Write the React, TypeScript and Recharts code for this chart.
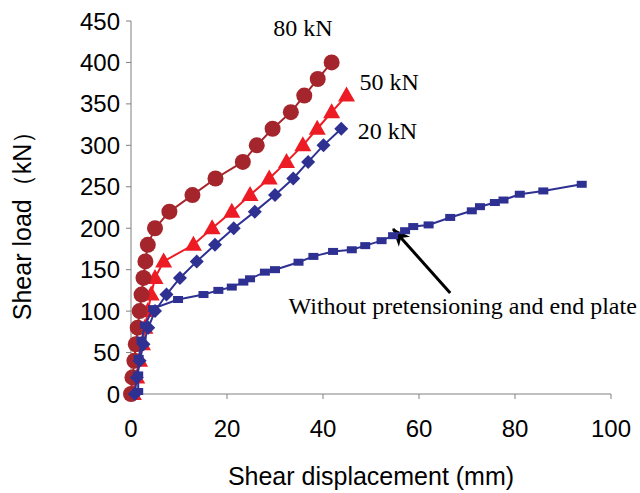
import React from 'react';
import {
  ScatterChart,
  Scatter,
  XAxis,
  YAxis,
  ReferenceDot,
  ReferenceLine,
} from 'recharts';

// shear load steps (kN) and measured displacement (mm) per pretension level
const load80 = [0, 20, 40, 60, 80, 100, 120, 140, 160, 180, 200, 220, 240, 260, 280, 300, 320, 340, 360, 380, 400];
const disp80 = [0, 0.3, 0.7, 1.0, 1.4, 1.8, 2.2, 2.6, 3.0, 3.5, 5.0, 8.0, 12.8, 17.6, 23.3, 26.2, 29.5, 33.3, 36.1, 38.9, 41.8];

const load50 = [0, 20, 40, 60, 80, 100, 120, 140, 160, 180, 200, 220, 240, 260, 280, 300, 320, 340, 360];
const disp50 = [0.5, 1.2, 1.8, 2.4, 2.9, 3.5, 4.2, 5.0, 6.8, 13.0, 16.9, 21.0, 24.8, 28.8, 32.4, 35.8, 38.8, 41.8, 44.9];

const load20 = [0, 20, 40, 60, 80, 100, 120, 140, 160, 180, 200, 220, 240, 260, 280, 300, 320];
const disp20 = [0.8, 1.2, 1.8, 2.6, 3.6, 5.0, 7.4, 10.2, 13.7, 17.5, 21.4, 25.8, 30.0, 33.8, 36.9, 40.1, 43.8];

const loadPlain = [3, 23, 43, 65, 83, 103, 114, 120, 125, 129, 135, 139, 147, 150, 159, 166, 172, 174, 179, 185, 191, 197, 202, 204, 213, 221, 226, 231, 234, 241, 245, 253];
const dispPlain = [1.5, 1.5, 1.6, 2.2, 2.9, 4.6, 9.8, 15.1, 18.2, 21.0, 23.4, 24.8, 27.9, 30.0, 34.9, 38.0, 42.1, 46.0, 48.8, 52.2, 54.6, 57.1, 58.8, 62.0, 66.5, 71.0, 72.7, 75.8, 77.6, 81.0, 85.9, 93.9];

const xTicks = [0, 20, 40, 60, 80, 100];
const yTicks = [0, 50, 100, 150, 200, 250, 300, 350, 400, 450];

const toPoints = (xs: number[], ys: number[]) => xs.map((x, i) => ({ x, y: ys[i] }));

const series80 = toPoints(disp80, load80);
const series50 = toPoints(disp50, load50);
const series20 = toPoints(disp20, load20);
const seriesPlain = toPoints(dispPlain, loadPlain);

const DARK_RED = '#A4262C';
const RED = '#ED1C24';
const BLUE = '#2E3192';
const AXIS = '#808080';
const SANS = '"Liberation Sans", Arial, sans-serif';
const SERIF = '"Liberation Serif", "Times New Roman", serif';

const CircleDot = ({ cx, cy }: any) => <circle cx={cx} cy={cy} r={8} fill={DARK_RED} />;
const TriangleDot = ({ cx, cy }: any) => (
  <polygon points={`${cx},${cy - 9} ${cx + 8.5},${cy + 6} ${cx - 8.5},${cy + 6}`} fill={RED} />
);
const DiamondDot = ({ cx, cy }: any) => (
  <polygon points={`${cx},${cy - 7} ${cx + 7},${cy} ${cx},${cy + 7} ${cx - 7},${cy}`} fill={BLUE} />
);
const SquareDot = ({ cx, cy }: any) => <rect x={cx - 5} y={cy - 3.5} width={10} height={7} fill={BLUE} />;

const YTitle = ({ viewBox }: any) => {
  const x = viewBox.x + 22;
  const y = viewBox.y + viewBox.height / 2 + 12;
  return (
    <text
      x={x}
      y={y}
      transform={`rotate(-90 ${x} ${y})`}
      textAnchor="middle"
      dominantBaseline="central"
      fontFamily={SANS}
      fontSize={25}
      fill="#000"
    >
      Shear load（kN）
    </text>
  );
};

const noteStyle = { fontFamily: SERIF, fontSize: 24, fill: '#000' };

export default function App() {
  return (
    <div style={{ position: 'absolute', left: 0, top: 0, background: '#fff' }}>
      <ScatterChart width={640} height={493} margin={{ top: 21, right: 29, bottom: 0, left: 0 }}>
        <defs>
          <marker
            id="arrowHead"
            viewBox="-18 -8 20 16"
            markerWidth={20}
            markerHeight={16}
            refX={0}
            refY={0}
            orient="auto"
            markerUnits="userSpaceOnUse"
          >
            <path d="M1,0 L-17,-7.5 L-12,0 L-17,7.5 Z" fill="#000" />
          </marker>
        </defs>
        <XAxis
          type="number"
          dataKey="x"
          domain={[0, 100]}
          ticks={xTicks}
          height={99}
          stroke={AXIS}
          tickSize={5}
          tickMargin={21}
          tick={{ fill: '#000', fontSize: 24, fontFamily: SANS }}
          label={{
            value: 'Shear displacement (mm)',
            position: 'insideBottom',
            offset: 8,
            fill: '#000',
            fontSize: 25,
            fontFamily: SANS,
          }}
        />
        <YAxis
          type="number"
          dataKey="y"
          domain={[0, 450]}
          ticks={yTicks}
          width={131}
          stroke={AXIS}
          tickSize={5}
          tickMargin={6}
          tick={{ fill: '#000', fontSize: 24, fontFamily: SANS }}
          label={<YTitle />}
        />
        <Scatter
          data={series50}
          fill={RED}
          line={{ stroke: RED, strokeWidth: 2 }}
          lineType="joint"
          shape={<TriangleDot />}
          isAnimationActive={false}
        />
        <Scatter
          data={series80}
          fill={DARK_RED}
          line={{ stroke: DARK_RED, strokeWidth: 2 }}
          lineType="joint"
          shape={<CircleDot />}
          isAnimationActive={false}
        />
        <Scatter
          data={series20}
          fill={BLUE}
          line={{ stroke: BLUE, strokeWidth: 2 }}
          lineType="joint"
          shape={<DiamondDot />}
          isAnimationActive={false}
        />
        <Scatter
          data={seriesPlain}
          fill={BLUE}
          line={{ stroke: BLUE, strokeWidth: 2 }}
          lineType="joint"
          shape={<SquareDot />}
          isAnimationActive={false}
        />
        <ReferenceLine
          segment={[{ x: 66.5, y: 122 }, { x: 54.6, y: 199 }]}
          stroke="#000"
          strokeWidth={3}
          markerEnd="url(#arrowHead)"
        />
        <ReferenceDot x={35.8} y={442} r={0} fill="none" stroke="none" label={{ value: '80 kN', position: 'center', ...noteStyle }} />
        <ReferenceDot x={53.8} y={377} r={0} fill="none" stroke="none" label={{ value: '50 kN', position: 'center', ...noteStyle }} />
        <ReferenceDot x={53.4} y={318} r={0} fill="none" stroke="none" label={{ value: '20 kN', position: 'center', ...noteStyle }} />
        <ReferenceDot
          x={69.1}
          y={107}
          r={0}
          fill="none"
          stroke="none"
          label={{ value: 'Without pretensioning and end plate', position: 'center', ...noteStyle }}
        />
      </ScatterChart>
    </div>
  );
}
